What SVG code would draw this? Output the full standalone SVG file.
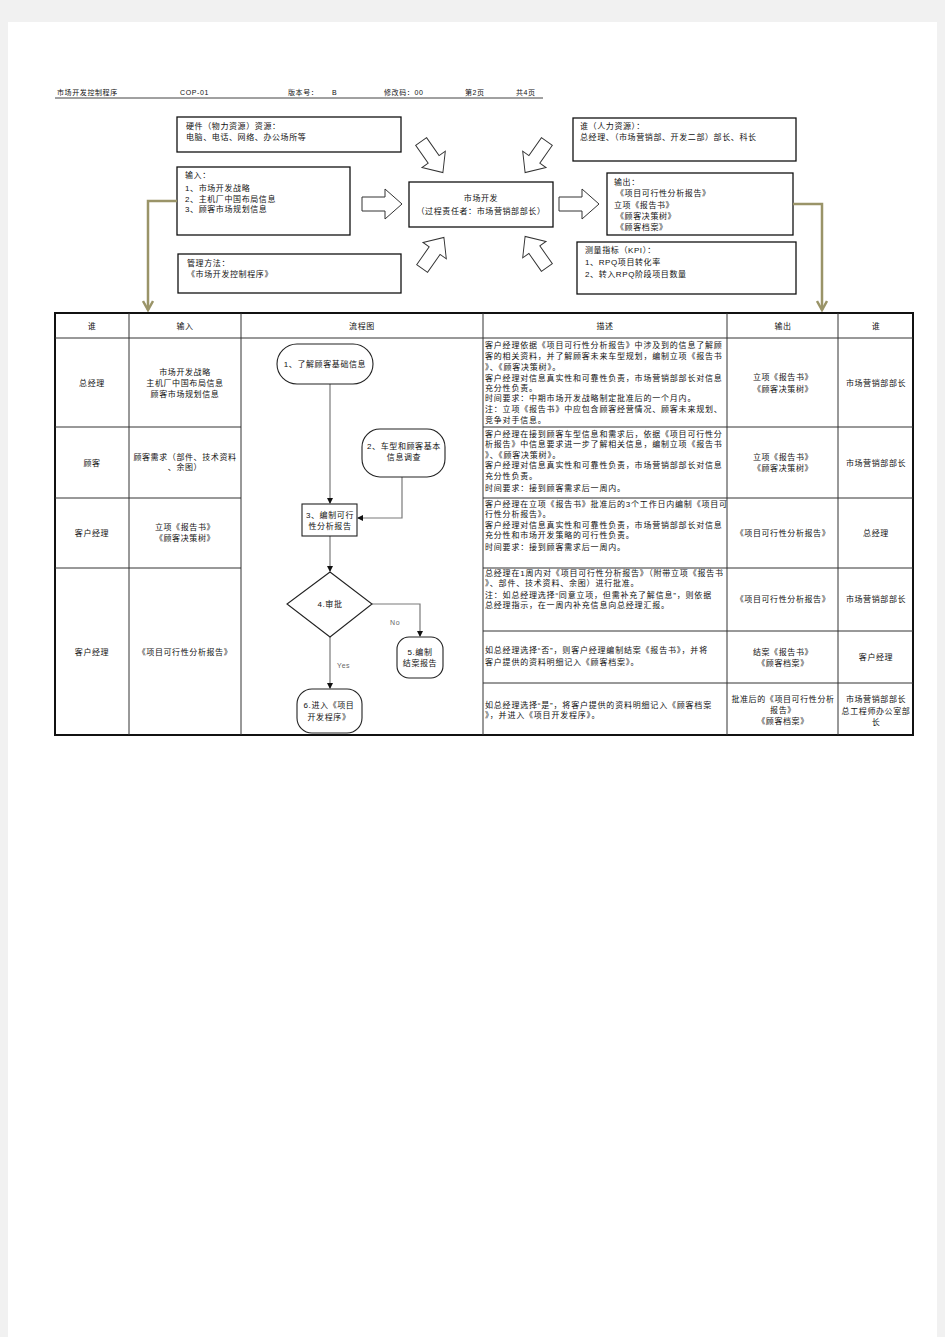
<svg xmlns="http://www.w3.org/2000/svg" width="945" height="1337" viewBox="0 0 945 1337">
<style>
text{font-family:"Liberation Sans","Noto Sans CJK SC",sans-serif;font-size:8px;fill:#111;letter-spacing:0.6px}
.d{letter-spacing:0.8px}
.c{text-anchor:middle}
.h{font-size:7px}
.box{fill:#fff;stroke:#111;stroke-width:1.3}
.fl{fill:#fff;stroke:#222;stroke-width:1.1}
.cn{fill:none;stroke:#7a7a7a;stroke-width:1.2}
.grid{stroke:#333;stroke-width:1}
.ol{fill:none;stroke:#9a9468;stroke-width:2.5}
.ba{fill:#fff;stroke:#333;stroke-width:1}
</style>
<defs>
<marker id="ah" markerWidth="6" markerHeight="6" refX="5" refY="3" orient="auto" markerUnits="userSpaceOnUse">
<path d="M0,0 L6,3 L0,6 Z" fill="#111"/>
</marker>
<marker id="oh" markerWidth="12" markerHeight="12" refX="10" refY="6" orient="auto" markerUnits="userSpaceOnUse">
<path d="M1,1 L10,6 L1,11" fill="none" stroke="#9a9468" stroke-width="2.5"/>
</marker>
<path id="blk" d="M-20,-7 L3,-7 L3,-15 L20,0 L3,15 L3,7 L-20,7 Z"/>
</defs>
<rect width="945" height="1337" fill="#f1f1f1"/>
<rect x="8" y="22" width="929" height="1315" fill="#fff"/>

<g id="header">
<text class="h" x="57" y="95">市场开发控制程序</text>
<text class="h" x="180" y="95">COP-01</text>
<text class="h" x="288" y="95">版本号：</text>
<text class="h" x="332" y="95">B</text>
<text class="h" x="384" y="95">修改码：00</text>
<text class="h" x="465" y="95">第2页</text>
<text class="h" x="516" y="95">共4页</text>
<line x1="55" y1="98" x2="543" y2="98" stroke="#111" stroke-width="0.8"/>
</g>

<g id="hardware">
<rect class="box" x="177" y="117" width="224" height="35"/>
<text x="186" y="129">硬件（物力资源）资源：</text>
<text x="186" y="140">电脑、电话、网络、办公场所等</text>
</g>
<g id="input">
<rect class="box" x="177" y="167" width="173" height="68"/>
<text x="185" y="178">输入：</text>
<text x="185" y="191">1、市场开发战略</text>
<text x="185" y="202">2、主机厂中国布局信息</text>
<text x="185" y="212">3、顾客市场规划信息</text>
</g>
<g id="method">
<rect class="box" x="178" y="254" width="223" height="39"/>
<text x="187" y="266">管理方法：</text>
<text x="187" y="277">《市场开发控制程序》</text>
</g>
<g id="process">
<rect class="box" x="409" y="182" width="144" height="45"/>
<text class="c" x="481" y="201">市场开发</text>
<text class="c" x="481" y="214">（过程责任者：市场营销部部长）</text>
</g>
<g id="who">
<rect class="box" x="573" y="118" width="223" height="43"/>
<text x="580" y="129">谁（人力资源）：</text>
<text x="580" y="140">总经理、（市场营销部、开发二部）部长、科长</text>
</g>
<g id="output">
<rect class="box" x="607" y="173" width="186" height="62"/>
<text x="614" y="185">输出：</text>
<text x="616" y="196">《项目可行性分析报告》</text>
<text x="614" y="208">立项《报告书》</text>
<text x="616" y="219">《顾客决策树》</text>
<text x="616" y="230">《顾客档案》</text>
</g>
<g id="kpi">
<rect class="box" x="577" y="242" width="219" height="52"/>
<text x="585" y="253">测量指标（KPI）：</text>
<text x="585" y="265">1、RPQ项目转化率</text>
<text x="585" y="277">2、转入RPQ阶段项目数量</text>
</g>

<g id="block-arrows">
<use href="#blk" class="ba" transform="translate(382,204)"/>
<use href="#blk" class="ba" transform="translate(579,204)"/>
<use href="#blk" class="ba" transform="translate(432,157) rotate(55) scale(0.95)"/>
<use href="#blk" class="ba" transform="translate(536,157) rotate(125) scale(0.95)"/>
<use href="#blk" class="ba" transform="translate(433,253) rotate(-55) scale(0.95)"/>
<use href="#blk" class="ba" transform="translate(536,252) rotate(-125) scale(0.95)"/>
</g>

<g id="olive-connectors">
<path class="ol" d="M177,201 H148 V310" marker-end="url(#oh)"/>
<path class="ol" d="M793,204 H822 V310" marker-end="url(#oh)"/>
</g>

<g id="table">
<rect x="55" y="313" width="858" height="422" fill="#fff" stroke="#111" stroke-width="2"/>
<line class="grid" x1="129" y1="313" x2="129" y2="735"/>
<line class="grid" x1="241" y1="313" x2="241" y2="735"/>
<line class="grid" x1="483" y1="313" x2="483" y2="735"/>
<line class="grid" x1="727" y1="313" x2="727" y2="735"/>
<line class="grid" x1="838" y1="313" x2="838" y2="735"/>
<line class="grid" x1="55" y1="338" x2="913" y2="338"/>
<line class="grid" x1="55" y1="427" x2="241" y2="427"/>
<line class="grid" x1="483" y1="427" x2="913" y2="427"/>
<line class="grid" x1="55" y1="498" x2="241" y2="498"/>
<line class="grid" x1="483" y1="498" x2="913" y2="498"/>
<line class="grid" x1="55" y1="568" x2="241" y2="568"/>
<line class="grid" x1="483" y1="568" x2="913" y2="568"/>
<line class="grid" x1="483" y1="631" x2="913" y2="631"/>
<line class="grid" x1="483" y1="683" x2="913" y2="683"/>

<text class="c" x="92" y="329">谁</text>
<text class="c" x="185" y="329">输入</text>
<text class="c" x="362" y="329">流程图</text>
<text class="c" x="605" y="329">描述</text>
<text class="c" x="783" y="329">输出</text>
<text class="c" x="876" y="329">谁</text>

<text class="c" x="92" y="386">总经理</text>
<text class="c" x="92" y="466">顾客</text>
<text class="c" x="92" y="536">客户经理</text>
<text class="c" x="92" y="655">客户经理</text>

<text class="c" x="185" y="375">市场开发战略</text>
<text class="c" x="185" y="386">主机厂中国布局信息</text>
<text class="c" x="185" y="397">顾客市场规划信息</text>
<text class="c" x="185" y="460">顾客需求（部件、技术资料</text>
<text class="c" x="185" y="470">、余图）</text>
<text class="c" x="185" y="530">立项《报告书》</text>
<text class="c" x="185" y="541">《顾客决策树》</text>
<text class="c" x="185" y="655">《项目可行性分析报告》</text>

<text class="d" x="485" y="348">客户经理依据《项目可行性分析报告》中涉及到的信息了解顾</text>
<text class="d" x="485" y="359">客的相关资料，并了解顾客未来车型规划，编制立项《报告书</text>
<text class="d" x="485" y="370">》、《顾客决策树》。</text>
<text class="d" x="485" y="381">客户经理对信息真实性和可靠性负责，市场营销部部长对信息</text>
<text class="d" x="485" y="391">充分性负责。</text>
<text class="d" x="485" y="401">时间要求：中期市场开发战略制定批准后的一个月内。</text>
<text class="d" x="485" y="412">注：立项《报告书》中应包含顾客经营情况、顾客未来规划、</text>
<text class="d" x="485" y="423">竞争对手信息。</text>

<text class="d" x="485" y="437">客户经理在接到顾客车型信息和需求后，依据《项目可行性分</text>
<text class="d" x="485" y="447">析报告》中信息要求进一步了解相关信息，编制立项《报告书</text>
<text class="d" x="485" y="458">》、《顾客决策树》。</text>
<text class="d" x="485" y="468">客户经理对信息真实性和可靠性负责，市场营销部部长对信息</text>
<text class="d" x="485" y="479">充分性负责。</text>
<text class="d" x="485" y="491">时间要求：接到顾客需求后一周内。</text>

<text class="d" x="485" y="507">客户经理在立项《报告书》批准后的3个工作日内编制《项目可</text>
<text class="d" x="485" y="517">行性分析报告》。</text>
<text class="d" x="485" y="528">客户经理对信息真实性和可靠性负责，市场营销部部长对信息</text>
<text class="d" x="485" y="538">充分性和市场开发策略的可行性负责。</text>
<text class="d" x="485" y="550">时间要求：接到顾客需求后一周内。</text>

<text class="d" x="485" y="576">总经理在1周内对《项目可行性分析报告》（附带立项《报告书</text>
<text class="d" x="485" y="586">》、部件、技术资料、余图）进行批准。</text>
<text class="d" x="485" y="598">注：如总经理选择“同意立项，但需补充了解信息”，则依据</text>
<text class="d" x="485" y="608">总经理指示，在一周内补充信息向总经理汇报。</text>

<text class="d" x="485" y="653">如总经理选择“否”，则客户经理编制结案《报告书》，并将</text>
<text class="d" x="485" y="665">客户提供的资料明细记入《顾客档案》。</text>

<text class="d" x="485" y="708">如总经理选择“是”，将客户提供的资料明细记入《顾客档案</text>
<text class="d" x="485" y="718">》，并进入《项目开发程序》。</text>

<text class="c" x="783" y="380">立项《报告书》</text>
<text class="c" x="783" y="392">《顾客决策树》</text>
<text class="c" x="783" y="460">立项《报告书》</text>
<text class="c" x="783" y="471">《顾客决策树》</text>
<text class="c" x="783" y="536">《项目可行性分析报告》</text>
<text class="c" x="783" y="602">《项目可行性分析报告》</text>
<text class="c" x="783" y="655">结案《报告书》</text>
<text class="c" x="783" y="666">《顾客档案》</text>
<text class="c" x="783" y="702">批准后的《项目可行性分析</text>
<text class="c" x="783" y="713">报告》</text>
<text class="c" x="783" y="724">《顾客档案》</text>

<text class="c" x="876" y="386">市场营销部部长</text>
<text class="c" x="876" y="466">市场营销部部长</text>
<text class="c" x="876" y="536">总经理</text>
<text class="c" x="876" y="602">市场营销部部长</text>
<text class="c" x="876" y="660">客户经理</text>
<text class="c" x="876" y="702">市场营销部部长</text>
<text class="c" x="876" y="714">总工程师办公室部</text>
<text class="c" x="876" y="725">长</text>
</g>

<g id="connectors">
<path class="cn" d="M330,384 V503" marker-end="url(#ah)"/>
<path class="cn" d="M402,477 V518 H358" marker-end="url(#ah)"/>
<path class="cn" d="M330,536 V571" marker-end="url(#ah)"/>
<path class="cn" d="M372,604 H420 V636" marker-end="url(#ah)"/>
<path class="cn" d="M330,637 V688" marker-end="url(#ah)"/>
<text x="390" y="625" style="font-size:7px;fill:#666">No</text>
<text x="337" y="668" style="font-size:7px;fill:#666">Yes</text>
</g>

<g id="node1">
<rect class="fl" x="277" y="344" width="96" height="40" rx="20"/>
<text class="c" x="325" y="367">1、了解顾客基础信息</text>
</g>
<g id="node2">
<rect class="fl" x="362" y="429" width="83" height="48" rx="18"/>
<text class="c" x="404" y="449">2、车型和顾客基本</text>
<text class="c" x="404" y="460">信息调查</text>
</g>
<g id="node3">
<rect class="fl" x="302" y="504" width="55" height="32" stroke-width="1.4"/>
<text class="c" x="330" y="518">3、编制可行</text>
<text class="c" x="330" y="529">性分析报告</text>
</g>
<g id="node4">
<path class="fl" d="M330,572 L372,604 L330,637 L287,604 Z"/>
<text class="c" x="330" y="607">4.审批</text>
</g>
<g id="node5">
<rect class="fl" x="397" y="637" width="46" height="41" rx="12"/>
<text class="c" x="420" y="655">5.编制</text>
<text class="c" x="420" y="666">结案报告</text>
</g>
<g id="node6">
<rect class="fl" x="297" y="689" width="65" height="44" rx="15"/>
<text class="c" x="329" y="708">6.进入《项目</text>
<text class="c" x="329" y="720">开发程序》</text>
</g>
</svg>
